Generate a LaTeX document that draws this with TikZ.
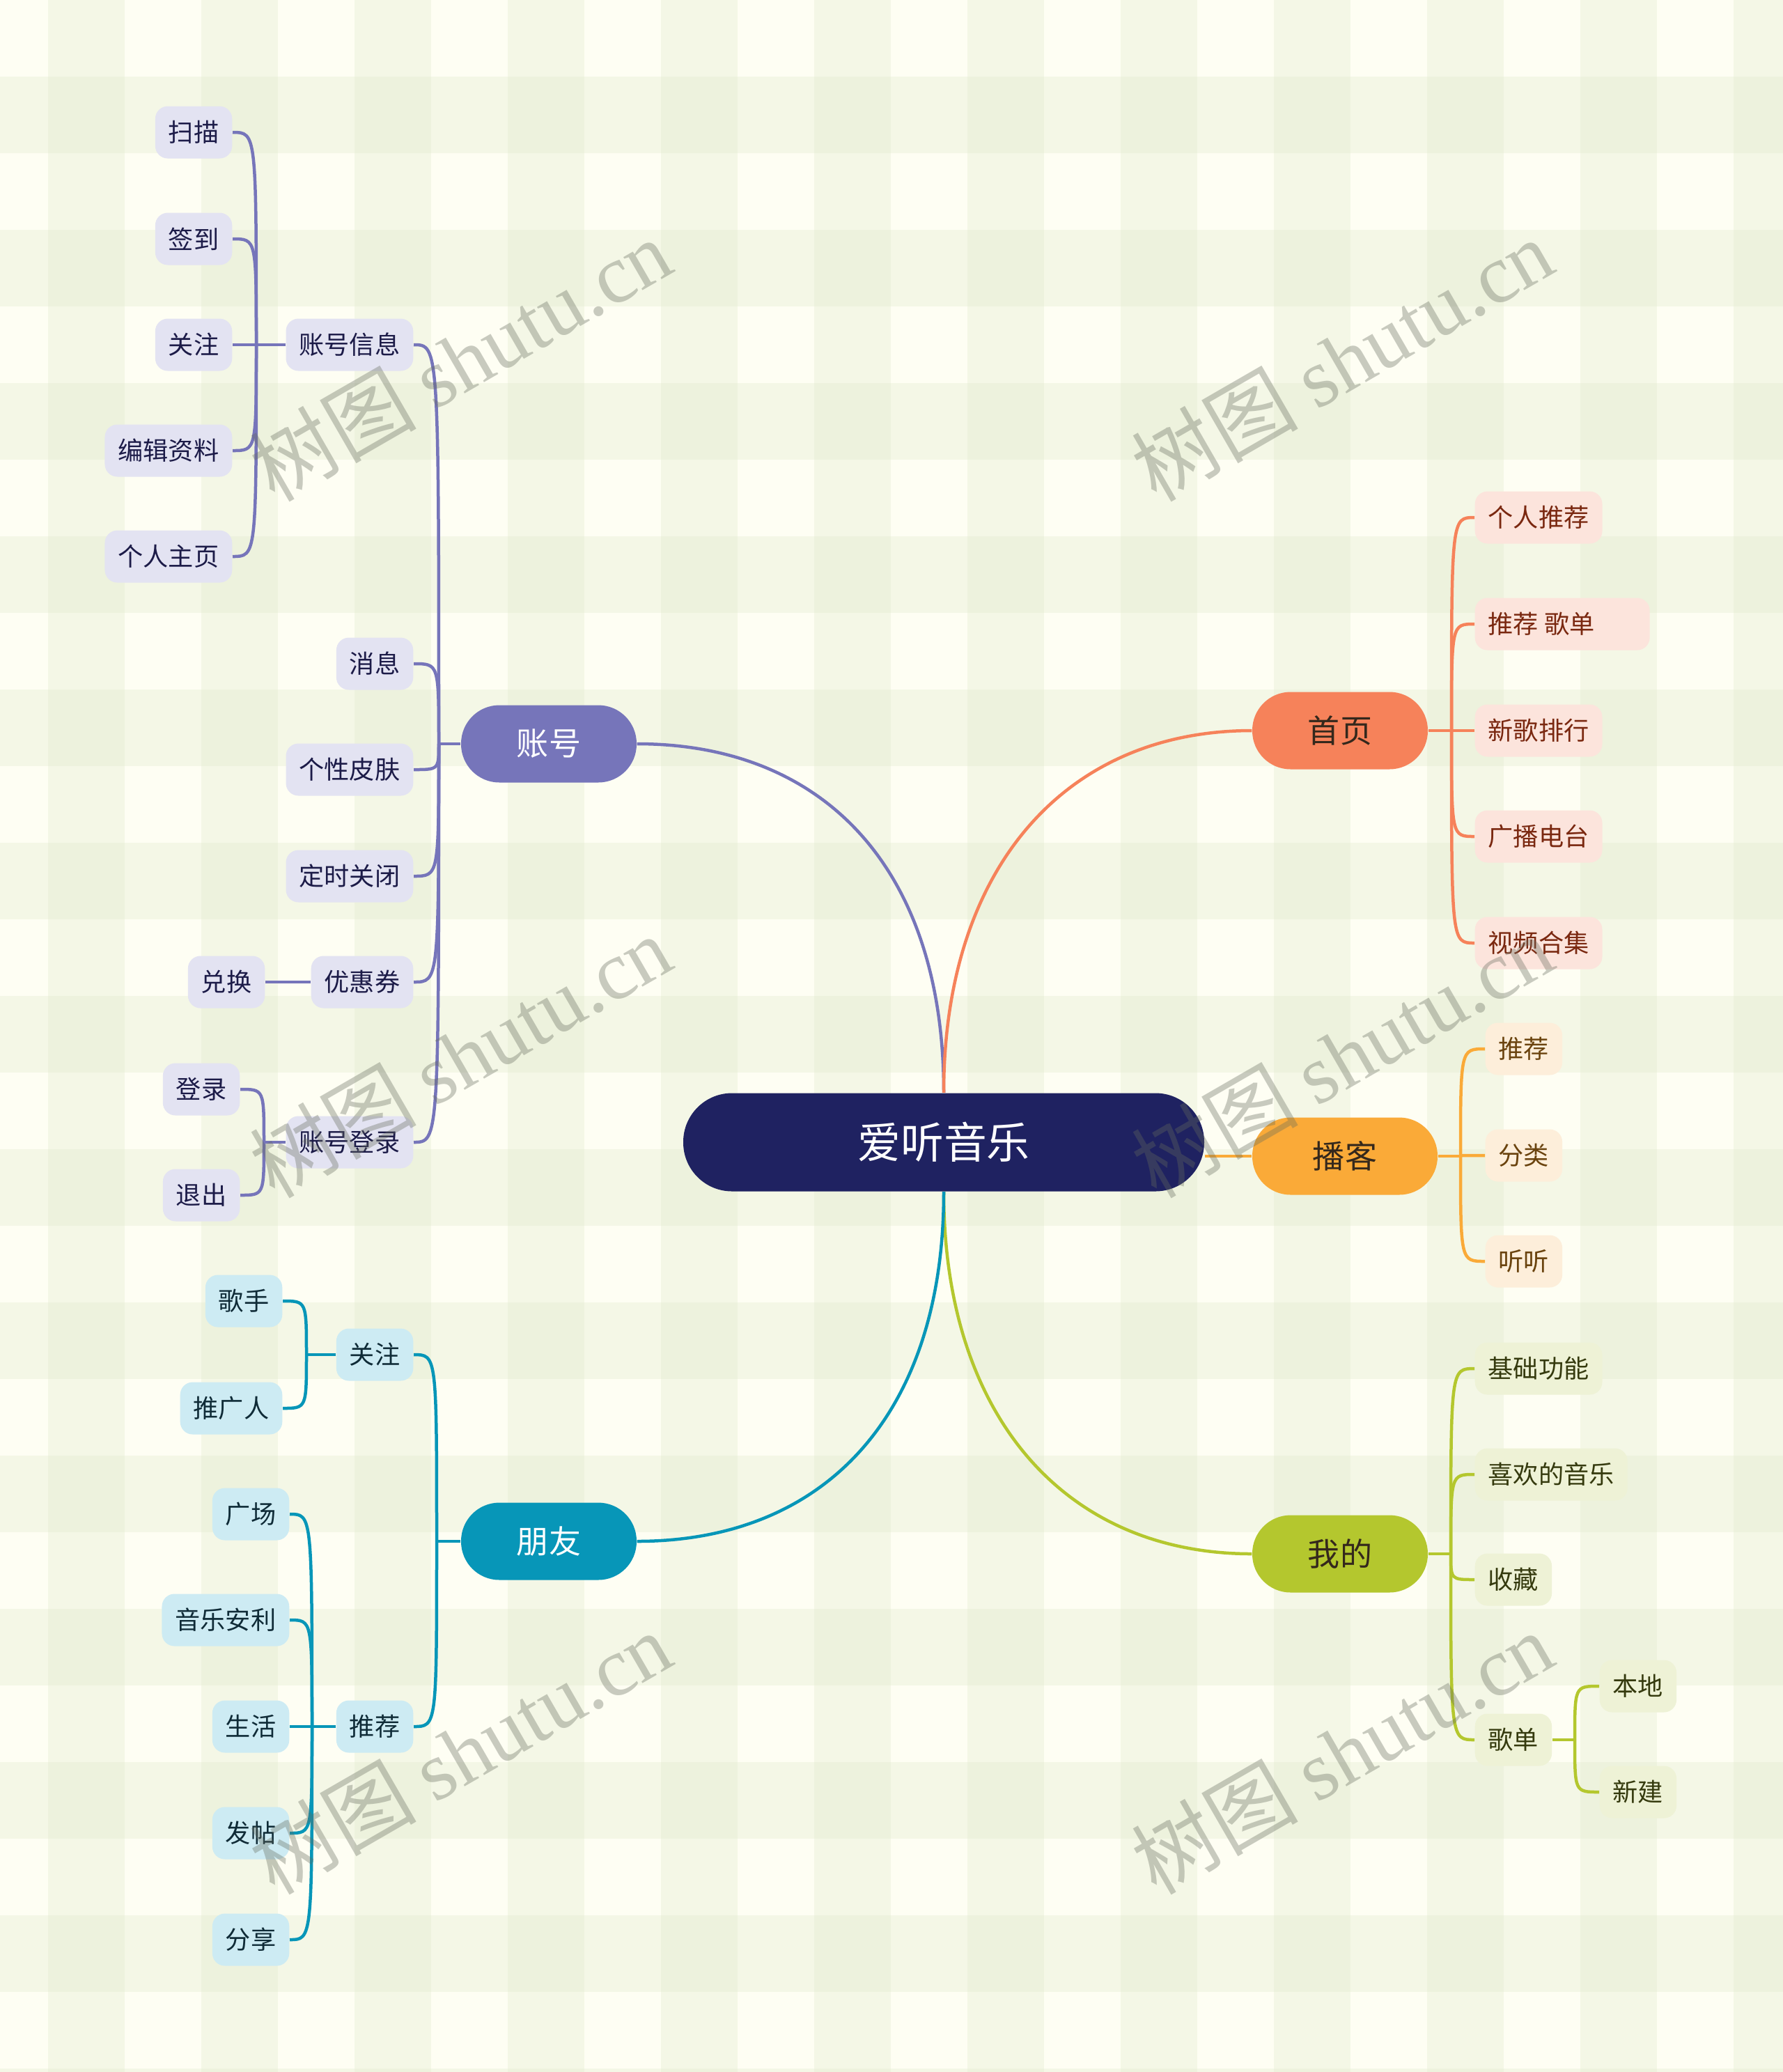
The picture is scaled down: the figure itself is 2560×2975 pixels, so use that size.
\documentclass[tikz,border=0pt]{standalone}
\usepackage{fontspec}
\usepackage{tikz}
\newfontfamily\cjk{Noto Sans CJK SC}
\newfontfamily\wmserif{Liberation Serif}
\definecolor{Base}{HTML}{FEFEF3}
\definecolor{Check}{HTML}{DDE7CB}
\definecolor{Root}{HTML}{1F2261}
\definecolor{ZhC}{HTML}{7675BA}
\definecolor{ZhL}{HTML}{E3E3F2}
\definecolor{ZhT}{HTML}{1C1B48}
\definecolor{SyC}{HTML}{F6825A}
\definecolor{SyL}{HTML}{FCE4DC}
\definecolor{SyT}{HTML}{7A2810}
\definecolor{BkC}{HTML}{FAAA38}
\definecolor{BkL}{HTML}{FDEEDA}
\definecolor{BkT}{HTML}{6A430E}
\definecolor{WdC}{HTML}{B4C72E}
\definecolor{WdL}{HTML}{EEF2D6}
\definecolor{WdT}{HTML}{353A0E}
\definecolor{PyC}{HTML}{0796B8}
\definecolor{PyL}{HTML}{CDEBF3}
\definecolor{PyT}{HTML}{0F2B37}
\definecolor{DarkT}{HTML}{34281C}
\definecolor{Wm}{HTML}{656B5D}

\begin{document}
\begin{tikzpicture}[x=0.1mm,y=-0.1mm,
  lv0/.style={fill=Root,text=white,font=\cjk\fontsize{17.6}{20}\selectfont,
    minimum width=74.8mm,minimum height=14.1mm,rounded corners=7mm},
  lv1/.style={font=\cjk\fontsize{13.1}{15}\selectfont,
    minimum width=25.2mm,minimum height=11.1mm,rounded corners=5.5mm},
  leaf/.style={font=\cjk\fontsize{10.3}{12}\selectfont,
    minimum height=7.5mm,inner xsep=1.9mm,inner ysep=0pt,rounded corners=1.8mm},
  leafZh/.style={leaf,fill=ZhL,text=ZhT},
  leafSy/.style={leaf,fill=SyL,text=SyT},
  leafBk/.style={leaf,fill=BkL,text=BkT},
  leafWd/.style={leaf,fill=WdL,text=WdT},
  leafPy/.style={leaf,fill=PyL,text=PyT},
  linkZh/.style={draw=ZhC,line width=0.45mm},
  linkSy/.style={draw=SyC,line width=0.45mm},
  linkBk/.style={draw=BkC,line width=0.45mm},
  linkWd/.style={draw=WdC,line width=0.45mm},
  linkPy/.style={draw=PyC,line width=0.45mm},
  wm/.style={font=\cjk\fontsize{34}{36}\selectfont,text=Wm,text opacity=0.35,rotate=30}]
  \useasboundingbox (0,0) rectangle (2560,2975);
  % checked background
  \fill[Base] (0,0) rectangle (2560,2975);
  \foreach \x in {69,289,...,2489}
    \fill[Check,opacity=0.3] (\x,0) rectangle ++(110,2975);
  \foreach \y in {110,330,...,2970}
    \fill[Check,opacity=0.3] (0,\y) rectangle ++(2560,110);

  % centre and main topics
  \node[lv0] (root) at (1355,1640) {爱听音乐};
  \node[lv1,fill=ZhC,text=white] (zh) at (788,1068) {账号};
  \node[lv1,fill=SyC,text=DarkT] (sy) at (1924,1049) {首页};
  \node[lv1,fill=BkC,text=DarkT,minimum width=26.6mm] (bk) at (1931,1660) {播客};
  \node[lv1,fill=WdC,text=DarkT] (wd) at (1924,2231) {我的};
  \node[lv1,fill=PyC,text=white] (py) at (788,2213) {朋友};

  \draw[linkZh] (zh.east) .. controls +(270,0) and +(0,-320) .. (root.north);
  \draw[linkSy] (root.north) .. controls +(0,-320) and +(-270,0) .. (sy.west);
  \draw[linkBk] (root.east |- bk.west) -- (bk.west);
  \draw[linkWd] (root.south) .. controls +(0,320) and +(-270,0) .. (wd.west);
  \draw[linkPy] (root.south) .. controls +(0,320) and +(270,0) .. (py.east);

  % 账号
  \foreach \n/\y/\t in {zhxx/495/账号信息, xx/953/消息, gxpf/1105/个性皮肤,
      dsgb/1258/定时关闭, yhq/1410/优惠券, zhdl/1640/账号登录}
    \node[leafZh,anchor=east] (\n) at (594,\y) {\t};
  \coordinate (jzh) at (630,1068);
  \draw[linkZh] (zh.west) -- (jzh);
  \foreach \n in {zhxx,xx,gxpf,dsgb,yhq,zhdl}
    \draw[linkZh] (jzh) .. controls (jzh |- \n.east) .. (\n.east);

  \foreach \n/\y/\t in {sm/190/扫描, qd/343/签到, gz/495/关注,
      bjzl/647/编辑资料, grzy/799/个人主页}
    \node[leafZh,anchor=east] (\n) at (334,\y) {\t};
  \coordinate (jxx) at (368,495);
  \draw[linkZh] (zhxx.west) -- (jxx);
  \foreach \n in {sm,qd,gz,bjzl,grzy}
    \draw[linkZh] (jxx) .. controls (jxx |- \n.east) .. (\n.east);

  \node[leafZh,anchor=east] (dh) at (381,1410) {兑换};
  \draw[linkZh] (yhq.west) -- (dh.east);

  \node[leafZh,anchor=east] (dl) at (345,1564) {登录};
  \node[leafZh,anchor=east] (tc) at (345,1716) {退出};
  \coordinate (jdl) at (379,1640);
  \draw[linkZh] (zhdl.west) -- (jdl);
  \foreach \n in {dl,tc}
    \draw[linkZh] (jdl) .. controls (jdl |- \n.east) .. (\n.east);

  % 首页
  \foreach \n/\y/\t in {grtj/743/个人推荐, tjgd/896/推荐 歌单\kern6mm,
      xgph/1049/新歌排行, gbdt/1201/广播电台, sphj/1354/视频合集}
    \node[leafSy,anchor=west] (\n) at (2117,\y) {\t};
  \coordinate (jsy) at (2084,1049);
  \draw[linkSy] (sy.east) -- (jsy);
  \foreach \n in {grtj,tjgd,xgph,gbdt,sphj}
    \draw[linkSy] (jsy) .. controls (jsy |- \n.west) .. (\n.west);

  % 播客
  \foreach \n/\y/\t in {bktj/1506/推荐, fl/1659/分类, tt/1811/听听}
    \node[leafBk,anchor=west] (\n) at (2132,\y) {\t};
  \coordinate (jbk) at (2097,1660);
  \draw[linkBk] (bk.east) -- (jbk);
  \foreach \n in {bktj,fl,tt}
    \draw[linkBk] (jbk) .. controls (jbk |- \n.west) .. (\n.west);

  % 我的
  \foreach \n/\y/\t in {jcgn/1965/基础功能, xhdyy/2117/喜欢的音乐,
      sc/2268/收藏, gd/2498/歌单}
    \node[leafWd,anchor=west] (\n) at (2117,\y) {\t};
  \coordinate (jwd) at (2083,2231);
  \draw[linkWd] (wd.east) -- (jwd);
  \foreach \n in {jcgn,xhdyy,sc,gd}
    \draw[linkWd] (jwd) .. controls (jwd |- \n.west) .. (\n.west);

  \node[leafWd,anchor=west] (bd) at (2296,2421) {本地};
  \node[leafWd,anchor=west] (xj) at (2296,2573) {新建};
  \coordinate (jgd) at (2261,2498);
  \draw[linkWd] (gd.east) -- (jgd);
  \foreach \n in {bd,xj}
    \draw[linkWd] (jgd) .. controls (jgd |- \n.west) .. (\n.west);

  % 朋友
  \node[leafPy,anchor=east] (pygz) at (594,1945) {关注};
  \node[leafPy,anchor=east] (pytj) at (594,2479) {推荐};
  \coordinate (jpy) at (627,2213);
  \draw[linkPy] (py.west) -- (jpy);
  \foreach \n in {pygz,pytj}
    \draw[linkPy] (jpy) .. controls (jpy |- \n.east) .. (\n.east);

  \node[leafPy,anchor=east] (gs) at (406,1868) {歌手};
  \node[leafPy,anchor=east] (tgr) at (406,2022) {推广人};
  \coordinate (jgz) at (440,1945);
  \draw[linkPy] (pygz.west) -- (jgz);
  \foreach \n in {gs,tgr}
    \draw[linkPy] (jgz) .. controls (jgz |- \n.east) .. (\n.east);

  \foreach \n/\y/\t in {gc/2174/广场, yyal/2326/音乐安利, sh/2479/生活,
      ft/2632/发帖, fx/2785/分享}
    \node[leafPy,anchor=east] (\n) at (416,\y) {\t};
  \coordinate (jtj) at (448,2479);
  \draw[linkPy] (pytj.west) -- (jtj);
  \foreach \n in {gc,yyal,sh,ft,fx}
    \draw[linkPy] (jtj) .. controls (jtj |- \n.east) .. (\n.east);

  % watermark
  \foreach \x in {661,1927}
    \foreach \y in {516,1516,2516}
      \node[wm] at (\x,\y) {树图 {\wmserif shutu.cn}};
\end{tikzpicture}
\end{document}
